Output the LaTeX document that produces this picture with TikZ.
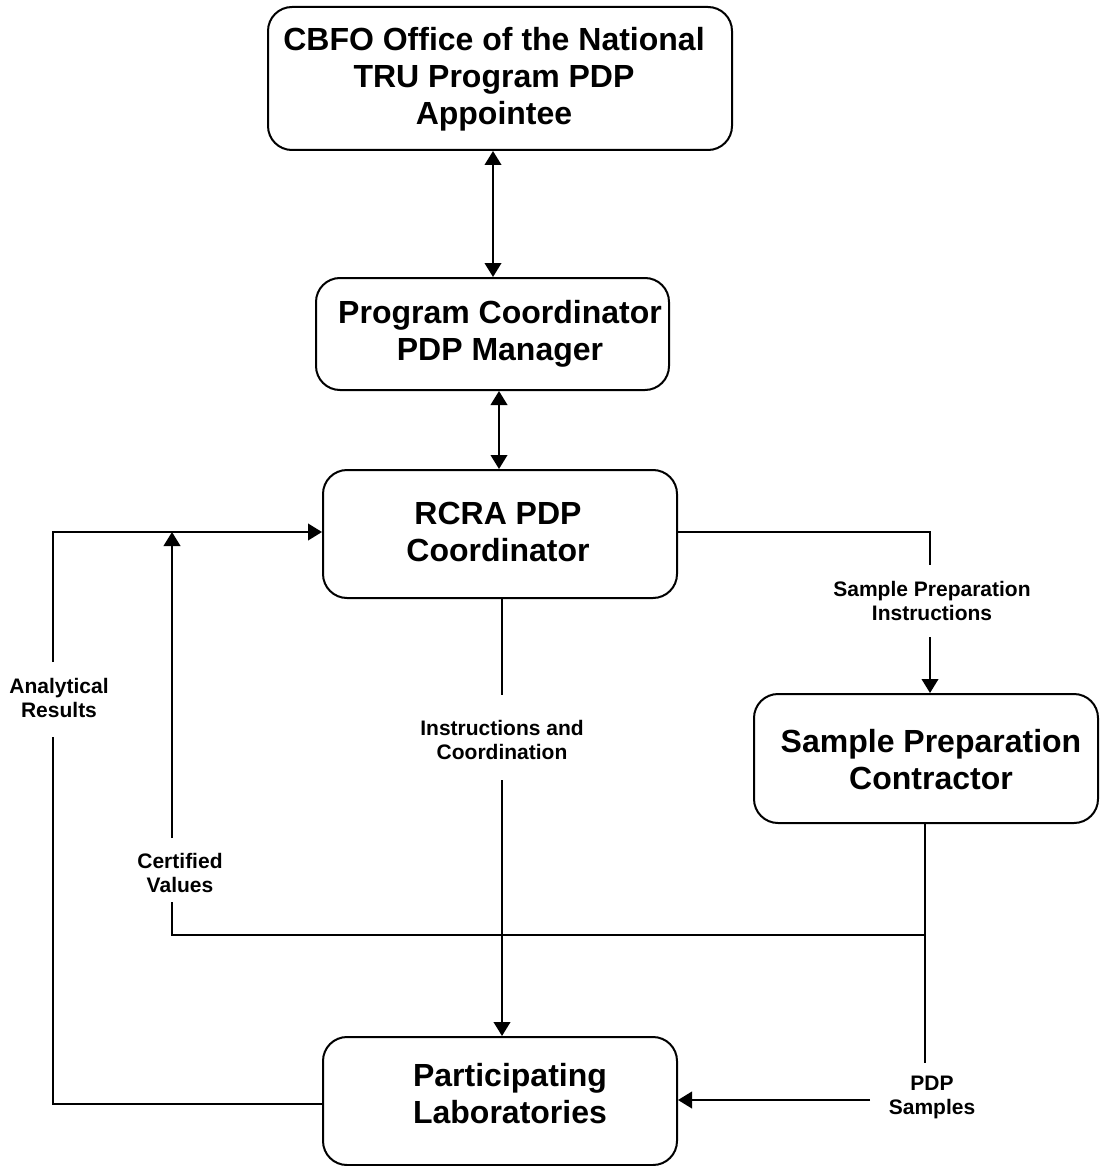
\documentclass[tikz,border=0pt]{standalone}
\usepackage{fontspec}
\setmainfont{Liberation Sans}
\usetikzlibrary{arrows.meta}
\begin{document}
\begin{tikzpicture}[x=0.5pt,y=-0.5pt,
  box/.style={draw,line width=1pt,rounded corners=12pt,inner sep=0pt},
  big/.style={font=\fontsize{16}{18.5}\selectfont\bfseries,align=center,inner sep=0pt},
  small/.style={font=\fontsize{10.5}{12}\selectfont\bfseries,align=center,inner sep=0pt},
  conn/.style={line width=1pt},
  arr/.style={conn,-{Triangle[length=7pt,width=8.3pt]}},
  darr/.style={conn,{Triangle[length=7pt,width=8.3pt]}-{Triangle[length=7pt,width=8.3pt]}}]
\useasboundingbox (0,0) rectangle (1099,1166);

% boxes
\node[box,minimum width=232pt,minimum height=71.5pt] (cbfo) at (500,78.5) {};
\node[box,minimum width=176.5pt,minimum height=56pt] (pc) at (492.5,334) {};
\node[box,minimum width=177pt,minimum height=64pt] (rcra) at (500,534) {};
\node[box,minimum width=172pt,minimum height=64.5pt] (spc) at (926,758.5) {};
\node[box,minimum width=177pt,minimum height=64pt] (lab) at (500,1101) {};

% box texts
\node[big] (cbfot) at (494,79) {CBFO Office of the National\\TRU Program PDP\\Appointee};
\node[big] (pct) at (500,334) {Program Coordinator\\PDP Manager};
\node[big] (rcrat) at (498,532) {RCRA PDP\\Coordinator};
\node[big] (spct) at (931,760) {Sample Preparation\\Contractor};
\node[big] (labt) at (510,1094) {Participating\\Laboratories};

% labels
\node[small] (analyt) at (59,698) {Analytical\\Results};
\node[small] (certt) at (180,873) {Certified\\Values};
\node[small] (instrt) at (502,740) {Instructions and\\Coordination};
\node[small] (sprt) at (932,601) {Sample Preparation\\Instructions};
\node[small] (pdpt) at (932,1097) {PDP\\Samples};

% helper coordinates
\coordinate (x493) at (493,0);
\coordinate (x499) at (499,0);
\coordinate (aL1) at (53,1104);
\coordinate (aL2) at (53,737);
\coordinate (aL3) at (53,662);
\coordinate (aL4) at (53,532);
\coordinate (c1) at (925,935);
\coordinate (c2) at (172,935);
\coordinate (c3) at (172,902);
\coordinate (c4) at (172,838);
\coordinate (c5) at (172,532);
\coordinate (p1) at (925,1063);
\coordinate (p2) at (870,1100);
\coordinate (s1) at (930,532);
\coordinate (s2) at (930,565);
\coordinate (s3) at (930,637);
\coordinate (i1) at (502,695);
\coordinate (i2) at (502,780);

% connectors
\draw[darr] (cbfo.south -| x493) -- (pc.north -| x493);
\draw[darr] (pc.south -| x499) -- (rcra.north -| x499);

\draw[conn] (lab.west |- aL1) -- (aL1) -- (aL2);
\draw[arr] (aL3) -- (aL4) -- (rcra.west |- aL4);

\draw[conn] (c1) -- (c2) -- (c3);
\draw[arr] (c4) -- (c5);

\draw[conn] (spc.south -| p1) -- (p1);
\draw[arr] (p2) -- (lab.east |- p2);

\draw[conn] (rcra.east |- s1) -- (s1) -- (s2);
\draw[arr] (s3) -- (spc.north -| s3);

\draw[conn] (rcra.south -| i1) -- (i1);
\draw[arr] (i2) -- (lab.north -| i2);
\end{tikzpicture}
\end{document}
